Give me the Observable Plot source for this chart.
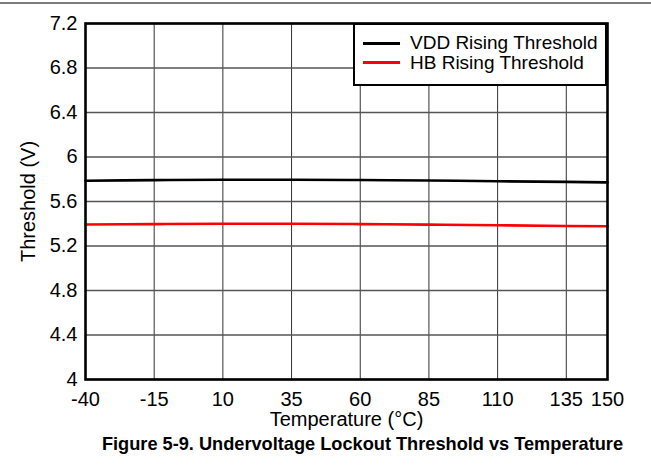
<!DOCTYPE html>
<html>
<head>
<meta charset="utf-8">
<script src="https://cdn.jsdelivr.net/npm/d3@7"></script>
<script src="https://cdn.jsdelivr.net/npm/@observablehq/plot@0.6"></script>
<style>
  body { margin: 0; background: #fff; font-family: "Liberation Sans", Arial, sans-serif; }
  #wrap { position: relative; width: 651px; height: 466px; overflow: hidden; }
  #topline { position: absolute; left: 0; top: 2px; width: 651px; height: 2px; background: #7a7a7a; }
  #chart { position: absolute; left: 0; top: 0; }
  #chart g[aria-label="x-axis tick label"], #chart g[aria-label="y-axis tick label"] { font-size: 20px !important; }
  #legend { position: absolute; left: 353px; top: 23px; width: 254px; height: 63px; box-sizing: border-box;
            border: 2.5px solid #000; background: #fff; font-size: 19px; color: #000; }
  .item { position: absolute; left: 8px; display: flex; align-items: center; white-space: nowrap; line-height: 20px; }
  .swatch { width: 37px; height: 3px; margin-right: 10px; }
  #caption { position: absolute; left: 0; width: 651px; top: 434px; text-align: center; font-weight: bold; font-size: 18.2px; color: #000; white-space: nowrap; }
  #caption span { position: relative; left: 37px; }
</style>
</head>
<body>
<div id="wrap">
  <div id="topline"></div>
  <div id="chart"></div>
  <div id="legend"></div>
  <div id="caption"><span>Figure 5-9. Undervoltage Lockout Threshold vs Temperature</span></div>
</div>
<script>
const temperatures = [-40, -15, 10, 35, 60, 85, 110, 135, 150];
const vddRising = [5.787, 5.792, 5.796, 5.796, 5.793, 5.789, 5.782, 5.776, 5.772];
const hbRising  = [5.393, 5.397, 5.400, 5.400, 5.397, 5.392, 5.386, 5.380, 5.377];
const seriesNames = ["VDD Rising Threshold", "HB Rising Threshold"];
const seriesColors = ["#000000", "#ff0000"];
const xTicks = [-40, -15, 10, 35, 60, 85, 110, 135, 150];
const yTicks = [4, 4.4, 4.8, 5.2, 5.6, 6, 6.4, 6.8, 7.2];

const rows = [];
temperatures.forEach((t, i) => {
  rows.push({series: seriesNames[0], t, v: vddRising[i]});
  rows.push({series: seriesNames[1], t, v: hbRising[i]});
});

const chart = Plot.plot({
  width: 651,
  height: 430,
  marginLeft: 85,
  marginRight: 44,
  marginTop: 23,
  marginBottom: 51,
  style: {fontFamily: '"Liberation Sans", Arial, sans-serif', fontSize: "19px", color: "#000", background: "transparent"},
  x: {domain: [-40, 150]},
  y: {domain: [4, 7.2]},
  color: {domain: seriesNames, range: seriesColors},
  marks: [
    Plot.gridX(xTicks, {stroke: "#333", strokeOpacity: 1, strokeWidth: 1}),
    Plot.gridY(yTicks, {stroke: "#555", strokeOpacity: 1, strokeWidth: 1.3}),
    Plot.line(rows, {x: "t", y: "v", z: "series", stroke: "series", strokeWidth: 2.6, curve: "monotone-x"}),
    Plot.axisX({ticks: xTicks, tickSize: 0, tickPadding: 12, fontSize: 20,
      tickFormat: d => String(d),
      label: "Temperature (°C)", labelAnchor: "center", labelArrow: "none", labelOffset: 46}),
    Plot.axisY({ticks: yTicks, tickSize: 0, tickPadding: 8, fontSize: 20,
      tickFormat: d => String(+d.toFixed(1)),
      label: "Threshold (V)", labelAnchor: "center", labelArrow: "none", labelOffset: 65}),
    Plot.frame({stroke: "#000", strokeWidth: 2.6})
  ]
});
document.getElementById("chart").appendChild(chart);

const legend = document.getElementById("legend");
seriesNames.forEach((name, i) => {
  const item = document.createElement("div");
  item.className = "item";
  item.style.top = (8 + i * 19.5) + "px";
  const sw = document.createElement("div");
  sw.className = "swatch";
  sw.style.background = seriesColors[i];
  const label = document.createElement("span");
  label.textContent = name;
  item.appendChild(sw);
  item.appendChild(label);
  legend.appendChild(item);
});
</script>
</body>
</html>
